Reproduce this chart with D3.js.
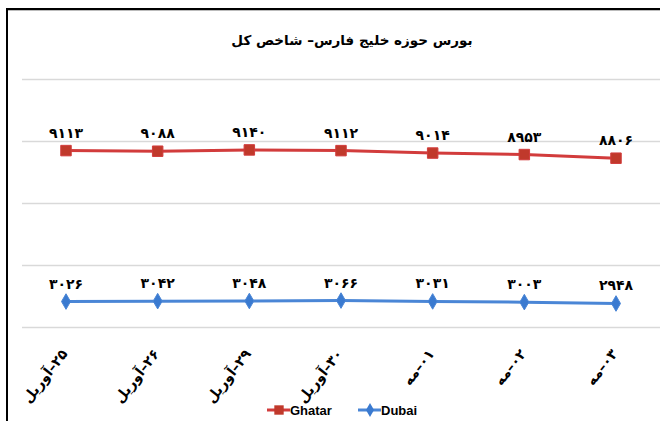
<!DOCTYPE html>
<html>
<head>
<meta charset="utf-8">
<title>chart</title>
<script src="https://d3js.org/d3.v7.min.js"></script>
<style>
  body { margin: 0; background: #fff; }
  svg { display: block; }
</style>
</head>
<body>
<div id="my_dataviz"></div>
<script>

// data
var categories = ["۲۵–آوریل", "۲۶–آوریل", "۲۹–آوریل", "۳۰–آوریل", "۰۱–مه", "۰۲–مه", "۰۳–مه"];
var ghatar = [9113, 9088, 9140, 9112, 9014, 8953, 8806];
var dubai = [3026, 3042, 3048, 3066, 3031, 3003, 2948];
var yTicks = [2000, 4500, 7000, 9500, 12000];
var title = "بورس حوزه خلیج فارس– شاخص کل";

var width = 660,
    height = 421;

var faDigits = "۰۱۲۳۴۵۶۷۸۹";
function toFa(n) {
  return String(n).replace(/[0-9]/g, function(d) { return faDigits[+d]; });
}

var svg = d3.select("#my_dataviz")
  .append("svg")
    .attr("width", width)
    .attr("height", height);

// chart frame (cut off at right / bottom)
svg.append("rect")
  .attr("x", 7).attr("y", 9)
  .attr("width", 700).attr("height", 500)
  .attr("fill", "none")
  .attr("stroke", "#000")
  .attr("stroke-width", 2);
svg.append("line")
  .attr("x1", 8).attr("x2", 660)
  .attr("y1", 10.5).attr("y2", 10.5)
  .attr("stroke", "#bbb");

// title
svg.append("text")
  .attr("x", 352).attr("y", 45)
  .attr("text-anchor", "middle")
  .attr("direction", "rtl")
  .style("font-family", "DejaVu Sans")
  .style("font-weight", "bold")
  .style("font-size", "13.5px")
  .text(title);

// scales
var x = d3.scalePoint()
  .domain(categories)
  .range([66, 616]);

var y = d3.scaleLinear()
  .domain([2000, 12000])
  .range([327, 79]);

// gridlines
svg.append("g")
  .selectAll("line")
  .data(yTicks)
  .enter()
  .append("line")
    .attr("x1", 22).attr("x2", 662)
    .attr("y1", function(d) { return Math.round(y(d)) + 0.5; })
    .attr("y2", function(d) { return Math.round(y(d)) + 0.5; })
    .attr("stroke", "#d9d9d9")
    .attr("stroke-width", 1.5);

// x axis labels (rotated)
var xAxis = svg.append("g")
  .attr("transform", "translate(0,351)")
  .call(d3.axisBottom(x).tickSize(0).tickPadding(0));
xAxis.select(".domain").remove();
xAxis.selectAll("text")
  .attr("direction", "rtl")
  .style("font-family", "DejaVu Sans")
  .style("font-weight", "bold")
  .style("font-size", "14px")
  .attr("fill", "#000")
  .attr("text-anchor", "start")
  .attr("y", 0)
  .attr("dy", "0.35em")
  .attr("transform", "translate(-2,0) rotate(-52)");

var series = [
  { name: "Ghatar", values: ghatar, color: "#c0392b", stroke: "#d23c3c", symbol: d3.symbolSquare, size: 110 },
  { name: "Dubai", values: dubai, color: "#3a7ad0", stroke: "#4a86d6", symbol: d3.symbolDiamond, size: 70 }
];

var line = d3.line()
  .x(function(d, i) { return x(categories[i]); })
  .y(function(d) { return y(d); });

series.forEach(function(s) {
  svg.append("path")
    .datum(s.values)
    .attr("d", line)
    .attr("fill", "none")
    .attr("stroke", s.stroke)
    .attr("stroke-width", 3);

  svg.append("g")
    .selectAll("path")
    .data(s.values)
    .enter()
    .append("path")
      .attr("transform", function(d, i) { return "translate(" + x(categories[i]) + "," + y(d) + ")"; })
      .attr("d", d3.symbol().type(s.symbol).size(s.size))
      .attr("fill", s.color)
      .attr("stroke", s.stroke)
      .attr("stroke-width", 1);

  svg.append("g")
    .selectAll("text")
    .data(s.values)
    .enter()
    .append("text")
      .attr("x", function(d, i) { return x(categories[i]); })
      .attr("y", function(d) { return y(d) - 13; })
      .attr("text-anchor", "middle")
      .style("font-family", "DejaVu Sans")
      .style("font-weight", "bold")
      .style("font-size", "14px")
      .text(function(d) { return toFa(d); });
});

// legend
var legend = svg.append("g").attr("transform", "translate(267,410)");
series.forEach(function(s, i) {
  var g = legend.append("g").attr("transform", "translate(" + (i * 91) + ",0)");
  g.append("line")
    .attr("x1", 0).attr("x2", 23)
    .attr("y1", 0).attr("y2", 0)
    .attr("stroke", s.stroke)
    .attr("stroke-width", 3);
  g.append("path")
    .attr("transform", "translate(12,0)")
    .attr("d", d3.symbol().type(s.symbol).size(s.size * 0.8))
    .attr("fill", s.color);
  g.append("text")
    .attr("x", 23).attr("y", 0)
    .attr("dy", "0.35em")
    .style("font-family", "Liberation Sans")
    .style("font-weight", "bold")
    .style("font-size", "13px")
    .text(s.name);
});

</script>
</body>
</html>
